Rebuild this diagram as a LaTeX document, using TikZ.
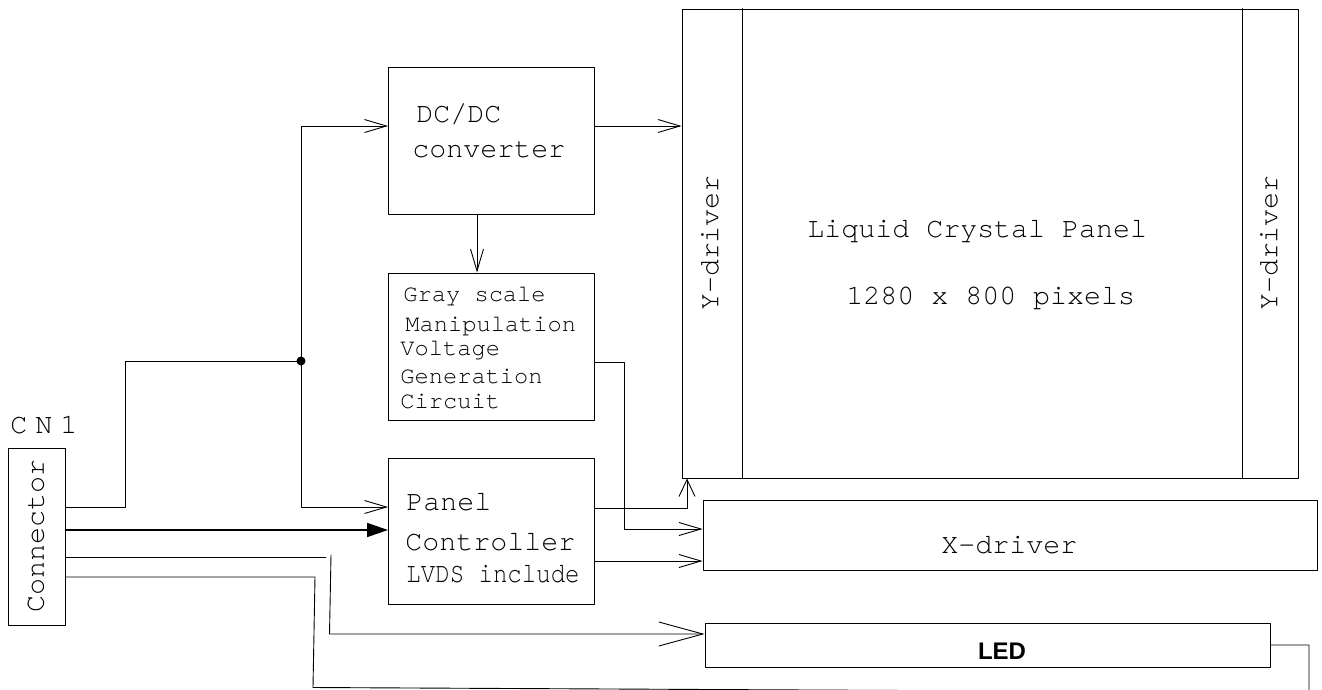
\documentclass[tikz,border=0pt]{standalone}
\usepackage{fontspec}
\usetikzlibrary{arrows.meta}
\newfontfamily\panelmono{texgyrecursor-regular.otf}
\newfontfamily\narrowmono[FakeStretch=0.85]{texgyrecursor-regular.otf}
\newfontfamily\spacedmono[LetterSpace=28]{texgyrecursor-regular.otf}
\newfontfamily\ledsans{Liberation Sans}
\newcommand{\bigmono}{\panelmono\fontsize{28.3}{32}\selectfont}
\newcommand{\smallmono}{\panelmono\fontsize{23.7}{28}\selectfont}

\begin{document}
\begin{tikzpicture}[line cap=round,line join=round,x=1pt,y=-1pt,line width=0.9pt,
  >={Straight Barb[length=22pt,width=13pt]},
  box/.style={draw,rectangle,inner sep=0pt},
  txt/.style={inner sep=0pt,anchor=base west,font=\bigmono},
  smalltxt/.style={inner sep=0pt,anchor=base west,font=\smallmono}]
				\useasboundingbox (0,0) rectangle (1322,689);
				\node[box,minimum width=57pt,minimum height=177pt] (conn) at (36.5,536.5) {};
				\node[box,minimum width=206pt,minimum height=147pt] (dcdc) at (491.5,140.5) {};
				\node[box,minimum width=206pt,minimum height=147pt] (gray) at (491.5,346.5) {};
				\node[box,minimum width=206pt,minimum height=146pt] (pctl) at (491.5,531) {};
				\node[box,minimum width=616pt,minimum height=469pt] (lcd) at (990,243.5) {};
				\node[box,minimum width=614pt,minimum height=70pt] (xdrv) at (1010,535) {};
				\node[box,minimum width=565pt,minimum height=44pt] (led) at (987.5,645) {};
				\draw (742,0 |- lcd.north) -- (742,0 |- lcd.south);
				\draw (1242,0 |- lcd.north) -- (1242,0 |- lcd.south);
				\coordinate (jct) at (301,361);
				\node[inner sep=0pt,anchor=base west,font=\spacedmono\fontsize{28.3}{32}\selectfont] (cnlabel) at (10,433) {CN1};
				\node[inner sep=0pt,rotate=90,font=\bigmono] (conntxt) at (36,536) {Connector};
				\node[txt] (dctxt1) at (416,122) {DC/DC};
				\node[txt] (dctxt2) at (412,157) {converter};
				\node[smalltxt] (grtxt1) at (403,301) {Gray scale};
				\node[smalltxt] (grtxt2) at (405,331) {Manipulation};
				\node[smalltxt] (grtxt3) at (400,355) {Voltage};
				\node[smalltxt] (grtxt4) at (400,383) {Generation};
				\node[smalltxt] (grtxt5) at (400,408) {Circuit};
				\node[txt] (pctxt1) at (406,510) {Panel};
				\node[txt] (pctxt2) at (405,550) {Controller};
				\node[inner sep=0pt,anchor=base west,font=\narrowmono\fontsize{28.3}{32}\selectfont] (pctxt3) at (406,582) {LVDS include};
				\node[txt] (lcdtxt1) at (807,237) {Liquid Crystal Panel};
				\node[txt] (lcdtxt2) at (846,304) {1280 x 800 pixels};
				\node[inner sep=0pt,rotate=90,font=\bigmono] (ydrvl) at (710,243) {Y-driver};
				\node[inner sep=0pt,rotate=90,font=\bigmono] (ydrvr) at (1269,243) {Y-driver};
				\node[txt] (xdrvtxt) at (941,553) {X-driver};
				\node[inner sep=0pt,anchor=base,font=\ledsans\bfseries\fontsize{24}{26}\selectfont] (ledtxt) at (1002,659) {LED};
				\draw (conn.east |- 0,507) -| (125,361) -- (jct);
				\fill (jct) circle (4.5pt);
				\draw[->] (jct) |- (dcdc.west |- 0,126);
				\draw[->] (jct) |- (pctl.west |- 0,507);
				\draw[line width=1.6pt,-{Triangle[length=21pt,width=14pt]}] (conn.east |- 0,530) -- (pctl.west |- 0,530);
				\draw (conn.east |- 0,557) -- (326,557);
				\draw[-{Straight Barb[length=44pt,width=24pt]}] (331,555) -- (329.5,634) -- (led.west |- 0,634);
				\draw (conn.east |- 0,577) -- (315,577) -- (313,687.5) -- (1309,692.5) -- (1309,645) -- (led.east |- 0,645);
				\draw[->] (dcdc.east |- 0,126) -- (lcd.west |- 0,126);
				\draw[->] (477,0 |- dcdc.south) -- (477,0 |- gray.north);
				\draw[->] (gray.east |- 0,362) -| (624,529) -- (xdrv.west |- 0,529);
				\draw[-{Straight Barb[length=17pt,width=16pt]}] (pctl.east |- 0,508) -| (687,0 |- lcd.south);
				\draw[->] (pctl.east |- 0,561) -- (xdrv.west |- 0,561);
			\end{tikzpicture}
\end{document}
